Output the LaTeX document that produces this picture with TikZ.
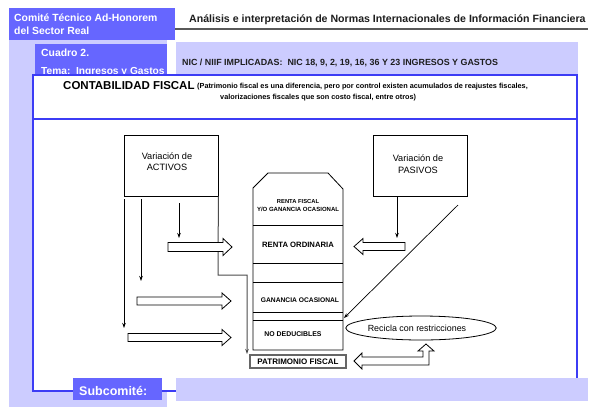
\documentclass[tikz,border=0pt]{standalone}
\usepackage{fontspec}
\setmainfont{Liberation Sans}
\usetikzlibrary{arrows.meta,shapes.geometric}
\definecolor{hdr}{RGB}{102,102,255}
\definecolor{lav}{RGB}{204,204,255}
\definecolor{frm}{RGB}{60,60,245}
\definecolor{ttl}{RGB}{30,30,30}
\newcommand{\fsz}[1]{\fontsize{#1}{#1}\selectfont}
\begin{document}
\begin{tikzpicture}[x=1pt,y=-1pt,
  hdrtext/.style={anchor=base west,inner sep=0,text=white,font=\bfseries\fsz{10.4}},
  vbox/.style={draw=black,line width=0.8pt,minimum width=94pt,minimum height=61pt,inner sep=0},
  boxtext/.style={inner sep=0,font=\fontsize{9.2}{11.5}\selectfont,align=center},
  coltext/.style={inner sep=0,font=\bfseries\fsz{6.8},align=center},
  thinarrow/.style={draw=black,line width=0.8pt,-{Stealth[length=5pt,width=3.5pt]}},
  blk/.style={draw=black,line width=0.8pt,fill=white},
  frame/.style={draw=frm,line width=1.2pt}]
\useasboundingbox (0,0) rectangle (594,408);
\fill[white] (0,0) rectangle (594,408);
% background bands
\fill[lav] (9,40) rectangle (167,407);
\fill[lav] (176,42) rectangle (578,75);
\fill[hdr] (9,8) rectangle (175,40);
\node[hdrtext] (c1) at (14,21) {Comité Técnico Ad-Honorem};
\node[hdrtext] (c2) at (14,34) {del Sector Real};
\node[anchor=base west,inner sep=0,text=ttl,font=\bfseries\fsz{10.6}] (title) at (189,22) {Análisis e interpretación de Normas Internacionales de Información Financiera};
\draw[draw=gray!70!black,line width=2pt] (175,29) -- (588,29);
\fill[hdr] (35,44) rectangle (167,75);
\node[hdrtext,font=\bfseries\fsz{10.4}] (cuadro) at (41,56) {Cuadro 2.};
\node[hdrtext,font=\bfseries\fsz{10.2}] (tema) at (41,74) {Tema:\ \ Ingresos y Gastos};
\node[anchor=base west,inner sep=0,text=ttl,font=\bfseries\fsz{8.9}] (nic) at (182,65) {NIC / NIIF IMPLICADAS:\ \ NIC 18, 9, 2, 19, 16, 36 Y 23 INGRESOS Y GASTOS};
% main frame
\fill[white] (33,75) rectangle (577,391);
\draw[frame] (33,75) rectangle (577,391);
\draw[frame] (33,119) -- (577,119);
\fill[lav] (176,378) rectangle (588,401);
\fill[hdr] (73,378) rectangle (162,400);
\node[hdrtext,font=\bfseries\fsz{12.5}] (sub) at (79,395) {Subcomité:};
% heading of frame
\node[anchor=base west,inner sep=0,text=black,font=\bfseries\fsz{11.5}] (cf) at (63,89) {CONTABILIDAD FISCAL};
\node[anchor=base west,inner sep=0,text=black,font=\bfseries\fsz{7.3}] (p1) at (197,88) {(Patrimonio fiscal es una diferencia, pero por control existen acumulados de reajustes fiscales,};
\node[anchor=base west,inner sep=0,text=black,font=\bfseries\fsz{7.3}] (p2) at (220,99) {valorizaciones fiscales que son costo fiscal, entre otros)};
% boxes
\node[vbox] (act) at (171,165.5) {};
\node[boxtext] (acttxt) at (167,161.5) {Variación de\\ACTIVOS};
\node[vbox] (pas) at (420,165.5) {};
\node[boxtext] (pastxt) at (418,164) {Variación de\\PASIVOS};
% central column
\draw[draw=black,line width=0.8pt] (253,350) -- (253,188) -- (268,173) -- (328,173) -- (343,189) -- (343,350) -- cycle;
\foreach \yy in {225,263,282,312,320} \draw[draw=black,line width=0.8pt] (253,\yy) -- (343,\yy);
\node[coltext,font=\bfseries\fsz{5.8}] (rf1) at (298,201) {RENTA FISCAL};
\node[coltext,font=\bfseries\fsz{6}] (rf2) at (298,209) {Y/O GANANCIA OCASIONAL};
\node[coltext,font=\bfseries\fsz{7.7}] (ro) at (298,245) {RENTA ORDINARIA};
\node[coltext,font=\bfseries\fsz{6.7}] (go) at (300,300) {GANANCIA OCASIONAL};
\node[coltext,font=\bfseries\fsz{6.9}] (nd) at (293,334) {NO DEDUCIBLES};
\node[draw=black,line width=0.7pt,double=gray!80!black,double distance=1.3pt,minimum width=96pt,minimum height=13pt,inner sep=0,font=\bfseries\fsz{8}] (pat) at (298,361.5) {PATRIMONIO FISCAL};
% thin arrows (left)
\coordinate (a1s) at (124,199); \coordinate (a1e) at (124,328);
\coordinate (a2s) at (141,199); \coordinate (a2e) at (141,281);
\coordinate (a3s) at (179,203); \coordinate (a3e) at (179,238);
\draw[thinarrow] (a1s) -- (a1e);
\draw[thinarrow] (a2s) -- (a2e);
\draw[thinarrow] (a3s) -- (a3e);
\draw[draw=gray!60!black,line width=1pt,-{Stealth[length=5pt,width=3.5pt]}] (act.south east) -- (218,275) -- (247,275) -- (247,354);
% thin arrows (right)
\coordinate (b1s) at (397,196); \coordinate (b1e) at (397,238);
\draw[thinarrow] (pas.south -| b1s) -- (b1e);
\coordinate (dgs) at (458,205); \coordinate (dge) at (344,318);
\draw[thinarrow,line width=0.7pt] (dgs) -- (dge);
% ellipse
\node[ellipse,draw=black,line width=0.8pt,minimum width=142pt,minimum height=24pt,inner sep=0,font=\fsz{8.9}] (rec) at (421,328) {Recicla con restricciones\hspace*{8pt}};
% block arrows
\draw[blk] (168,242.5) -- (223,242.5) -- (223,238.5) -- (232,247) -- (223,255.5) -- (223,251.5) -- (168,251.5) -- cycle;
\draw[blk] (137,297) -- (222,297) -- (222,293) -- (231,301) -- (222,309) -- (222,305) -- (137,305) -- cycle;
\draw[blk] (128,333.5) -- (222,333.5) -- (222,329.5) -- (231,337.5) -- (222,345.5) -- (222,341.5) -- (128,341.5) -- cycle;
\draw[blk] (405,242.5) -- (363,242.5) -- (363,238.5) -- (354,246.5) -- (363,254.5) -- (363,250.5) -- (405,250.5) -- cycle;
\draw[blk] (354,361) -- (362,353) -- (362,357) -- (423,357) -- (423,351) -- (418,351) -- (426,344) -- (434,351) -- (429,351) -- (429,365) -- (362,365) -- (362,369) -- cycle;
\end{tikzpicture}
\end{document}
